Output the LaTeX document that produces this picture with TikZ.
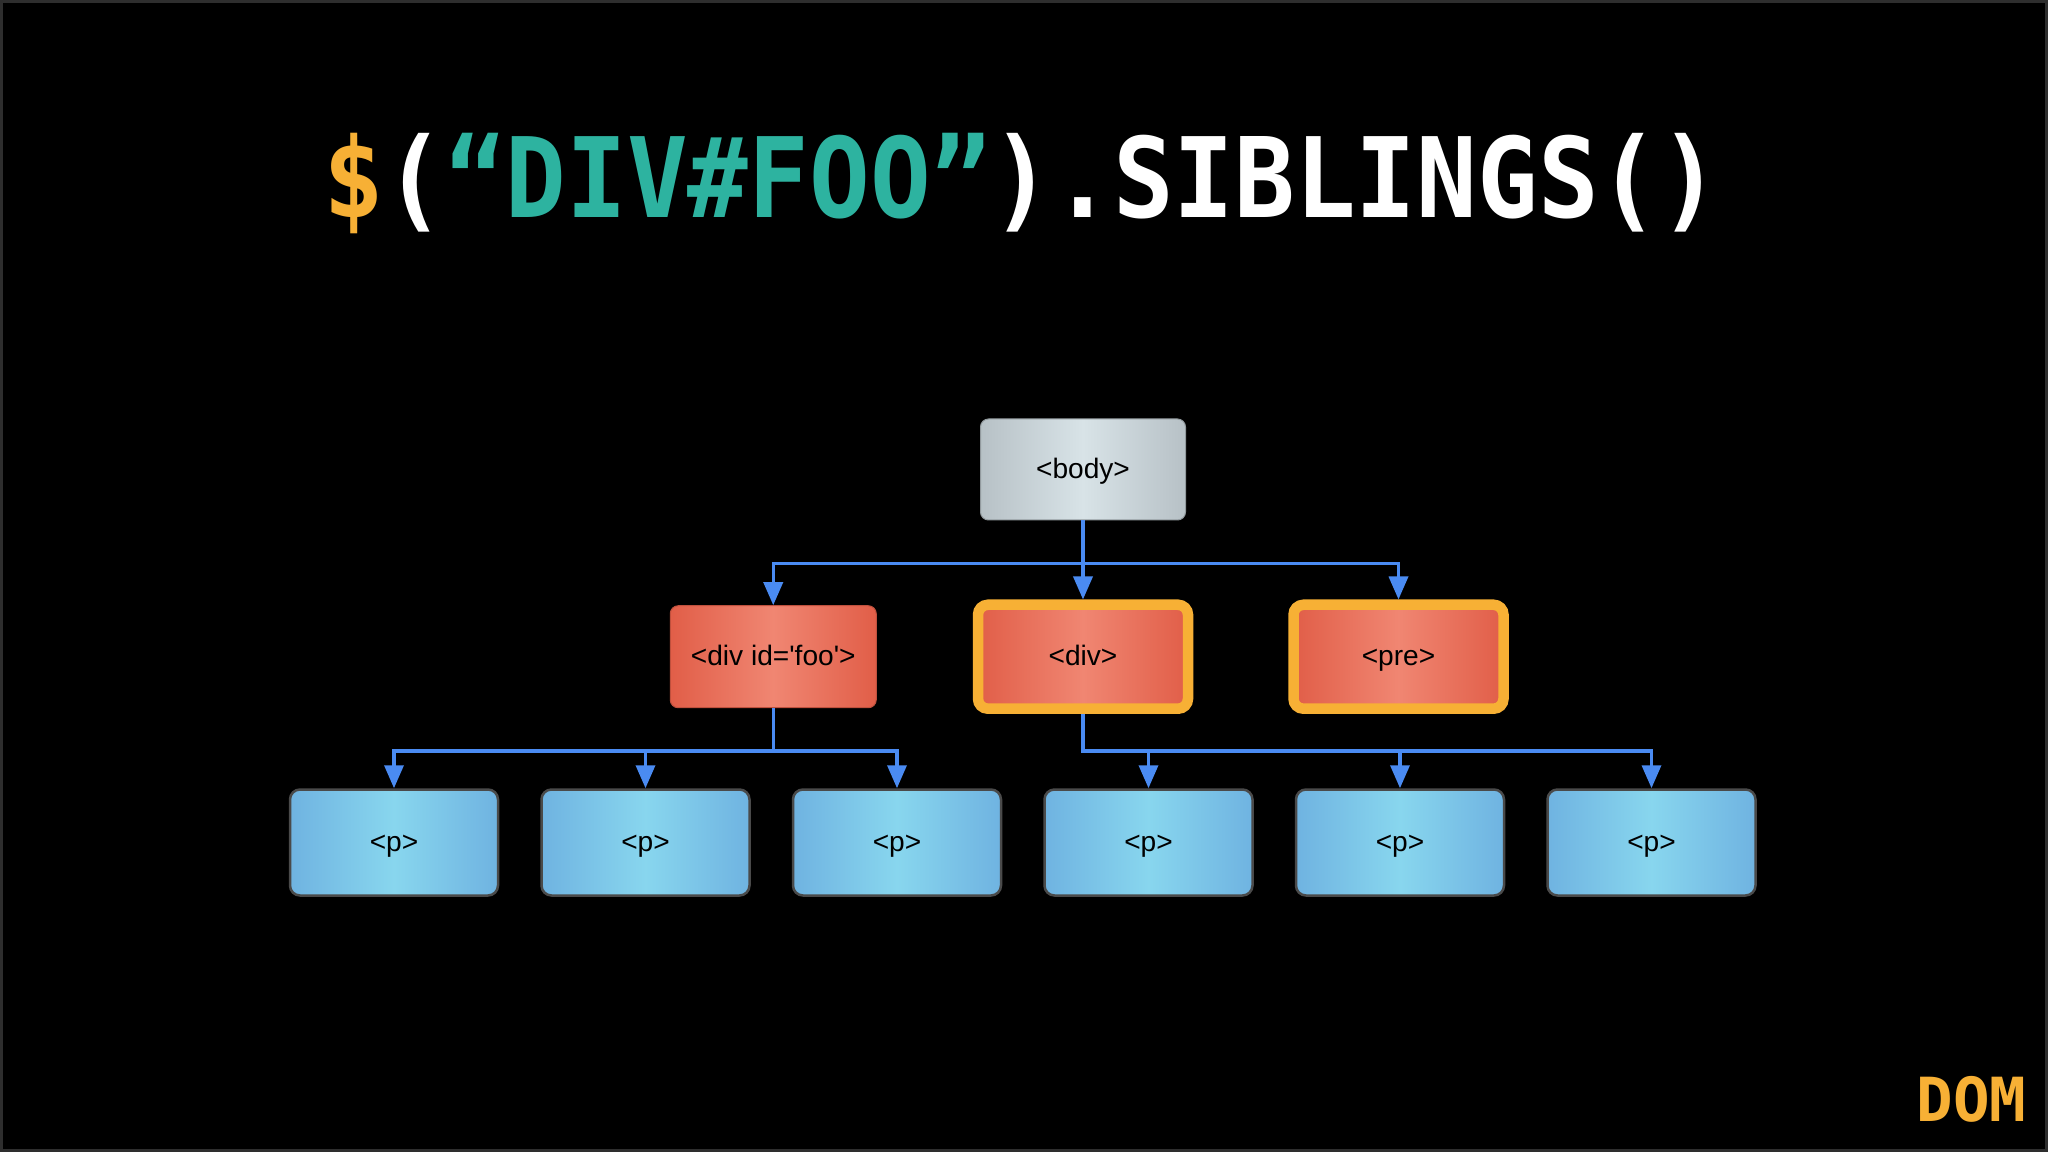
\documentclass[tikz,border=0pt]{standalone}
\usepackage{fontspec}
\setmainfont{Liberation Sans}
\newfontfamily\dotfont{DejaVu Sans Mono}
\usetikzlibrary{arrows.meta,positioning}
\definecolor{frame}{HTML}{2E2E2E}
\definecolor{dollar}{HTML}{F7B035}
\definecolor{teal}{HTML}{2DB3A0}
\definecolor{wire}{HTML}{4A8BF2}
\definecolor{bodyside}{HTML}{B7C1C6}
\definecolor{bodymid}{HTML}{D8E3E7}
\definecolor{redside}{HTML}{E15E48}
\definecolor{redmid}{HTML}{F08672}
\definecolor{blueside}{HTML}{6FB3E1}
\definecolor{bluemid}{HTML}{88D6EE}
\definecolor{boxedge}{HTML}{4A4A4A}
\tikzset{
  body_box/.style={draw=bodyside!80!black,line width=0.01cm,left color=bodyside,right color=bodyside,middle color=bodymid,
    rounded corners=0.08cm,minimum width=2.05cm,minimum height=1.01cm,text height=0.72em,text depth=0.2em,
    font=\fontsize{8}{9.6}\selectfont,text=black},
  node_red/.style={draw=redside!85!black,line width=0.01cm,left color=redside,right color=redside,middle color=redmid,
    rounded corners=0.08cm,minimum width=2.06cm,minimum height=1.02cm,text height=0.72em,text depth=0.2em,
    font=\fontsize{8}{9.6}\selectfont,text=black},
  node_pick/.style={node_red,draw=dollar,line width=0.105cm,rounded corners=0.1cm,minimum width=2.1cm,minimum height=1.04cm},
  p_box/.style={draw=boxedge,line width=0.025cm,left color=blueside,right color=blueside,middle color=bluemid,
    rounded corners=0.1cm,minimum width=2.08cm,minimum height=1.06cm,text height=0.72em,text depth=0.2em,
    font=\fontsize{8}{9.6}\selectfont,text=black},
  arr/.style={-{Triangle[length=0.23cm,width=0.19cm]},draw=wire,line width=0.035cm},
}
\begin{document}
\begin{tikzpicture}
  \useasboundingbox (0,0) rectangle (20.48,-11.52);
  \fill[black] (0,0) rectangle (20.48,-11.52);
  \draw[frame,line width=0.03cm] (0.015,-0.015) rectangle (20.465,-11.505);

  % title
  \node[anchor=base,font=\dotfont\bfseries\fontsize{28.7}{30}\selectfont,inner sep=0pt,yscale=1.1,transform shape] (title) at (10.22,-2.18)
    {\textcolor{dollar}{\$}\textcolor{white}{(}\textcolor{teal}{“DIV\#FOO”}\textcolor{white}{).SIBLINGS()}};

  % tree
  \node[body_box] (body) at (10.83,-4.695) {<body>};
  \node[node_pick,below=0.79cm of body] (div) {<div>};
  \node[node_red,left=0.96cm of div] (foo) {<div id=\textquotesingle foo\textquotesingle>};
  \node[node_pick,right=0.95cm of div] (pre) {<pre>};

  \node[p_box] (p1) at (3.94,-8.425) {<p>};
  \node[p_box,right=0.41cm of p1] (p2) {<p>};
  \node[p_box,right=0.41cm of p2] (p3) {<p>};
  \node[p_box,right=0.41cm of p3] (p4) {<p>};
  \node[p_box,right=0.41cm of p4] (p5) {<p>};
  \node[p_box,right=0.41cm of p5] (p6) {<p>};

  \coordinate[below=0.43cm of body.south] (body_split);
  \coordinate[below=0.43cm of foo.south] (foo_split);
  \coordinate (div_split) at (div.south |- foo_split);

  \draw[arr] (body.south) -- (div.north);
  \draw[arr] (body.south) -- (body_split) -| (foo.north);
  \draw[arr] (body_split) -| (pre.north);

  \draw[arr] (foo.south) -- (foo_split) -| (p1.north);
  \draw[arr] (foo_split) -| (p2.north);
  \draw[arr] (foo_split) -| (p3.north);

  \draw[arr] (div.south) -- (div_split) -| (p4.north);
  \draw[arr] (div_split) -| (p5.north);
  \draw[arr] (div_split) -| (p6.north);

  % corner label
  \node[anchor=base east,font=\dotfont\bfseries\fontsize{17.3}{18}\selectfont,text=dollar,inner sep=0pt] (dom) at (20.27,-11.21) {DOM};
\end{tikzpicture}
\end{document}
